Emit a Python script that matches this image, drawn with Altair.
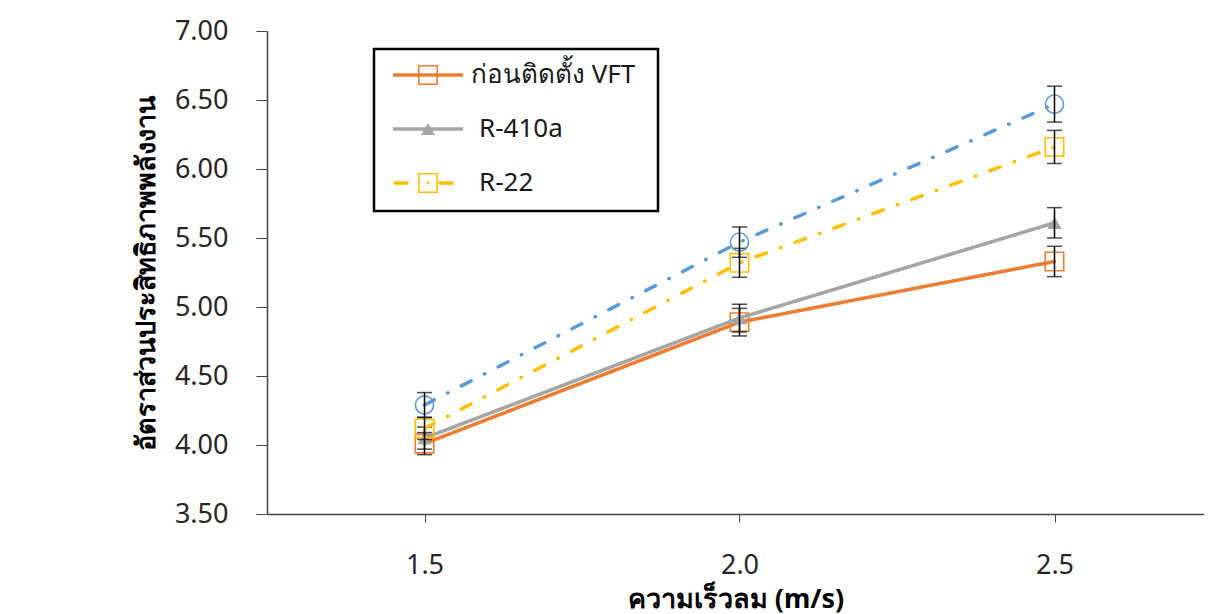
import altair as alt
import pandas as pd

# ---------------- data ----------------
speeds = [1.5, 2.0, 2.5]
series_names = ["ก่อนติดตั้ง VFT", "R-410a", "R-22", "ชุดที่ 4"]
before_vft = [4.01, 4.89, 5.33]
r410a = [4.05, 4.92, 5.61]
r22 = [4.12, 5.32, 6.16]
series4 = [4.29, 5.47, 6.47]
err_before_vft = [0.08, 0.10, 0.11]
err_r410a = [0.08, 0.10, 0.11]
err_r22 = [0.08, 0.105, 0.12]
err_series4 = [0.09, 0.11, 0.13]

y_ticks = [3.5, 4.0, 4.5, 5.0, 5.5, 6.0, 6.5, 7.0]
x_ticks = [1.5, 2.0, 2.5]
x_title = "ความเร็วลม (m/s)"
y_title = "อัตราส่วนประสิทธิภาพพลังงาน"
legend_names = ["ก่อนติดตั้ง VFT", "R-410a", "R-22"]

values = [before_vft, r410a, r22, series4]
errors = [err_before_vft, err_r410a, err_r22, err_series4]

# ---------------- styles ----------------
FONT = "Noto Sans"
styles = {
    "ก่อนติดตั้ง VFT": dict(color="#ED7D31", dash=[1, 0], shape="square", filled=False, size=340),
    "R-410a": dict(color="#A5A5A5", dash=[1, 0], shape="triangle-up", filled=True, size=200),
    "R-22": dict(color="#FFC000", dash=[11, 15, 0.5, 15], shape="square", filled=False, size=340),
    "ชุดที่ 4": dict(color="#5B9BD5", dash=[11, 15, 0.5, 15], shape="circle", filled=False, size=330),
}

rows = []
for name, vals, errs in zip(series_names, values, errors):
    for s, v, e in zip(speeds, vals, errs):
        rows.append(dict(series=name, speed=s, value=v, lo=v - e, hi=v + e))
df = pd.DataFrame(rows)

W, H = 937, 483
x_scale = alt.Scale(domain=[1.25, 1.25 + W / 630.0], nice=False, zero=False)
y_scale = alt.Scale(domain=[3.5, 7.0], nice=False, zero=False)

x_axis = alt.Axis(values=x_ticks, format=".1f", grid=False, tickSize=8, labelPadding=30,
                  labelFontSize=27, labelFont=FONT, labelColor="#262626",
                  domainColor="#444444", tickColor="#444444", domainWidth=1.5, tickWidth=1,
                  title=x_title, titleFont=FONT, titleFontSize=27, titleFontWeight="bold",
                  titleColor="#000000", titlePadding=8)
y_axis = alt.Axis(values=y_ticks, format=".2f", grid=False, tickSize=11, labelPadding=28,
                  labelFontSize=27, labelFont=FONT, labelColor="#262626",
                  domainColor="#444444", tickColor="#444444", domainWidth=1.5, tickWidth=1,
                  title=y_title, titleFont=FONT, titleFontSize=27, titleFontWeight="bold",
                  titleColor="#000000", titlePadding=14)

X = alt.X("speed:Q", scale=x_scale, axis=x_axis)
Y = alt.Y("value:Q", scale=y_scale, axis=y_axis)

layers = []
for name in series_names:
    st = styles[name]
    sub = alt.Chart(df).transform_filter(alt.datum.series == name)
    line = sub.mark_line(color=st["color"], strokeWidth=3.5, strokeDash=st["dash"],
                         strokeCap="round").encode(x=X, y=Y)
    pts = sub.mark_point(shape=st["shape"], size=st["size"], filled=st["filled"],
                         color=st["color"], strokeWidth=1.6, opacity=1).encode(x=X, y=Y)
    err = sub.mark_rule(color="#000000", strokeWidth=1.5).encode(
        x=X, y=alt.Y("lo:Q", scale=y_scale, axis=y_axis), y2="hi:Q")
    cap_lo = sub.mark_tick(color="#000000", thickness=1.5, size=15, orient="horizontal").encode(
        x=X, y=alt.Y("lo:Q", scale=y_scale, axis=y_axis))
    cap_hi = sub.mark_tick(color="#000000", thickness=1.5, size=15, orient="horizontal").encode(
        x=X, y=alt.Y("hi:Q", scale=y_scale, axis=y_axis))
    layers += [line, pts, err, cap_lo, cap_hi]

# ---------------- manual legend (box, line samples, markers, labels) ----------------
one = pd.DataFrame({"k": [0]})
BOX_L, BOX_R, BOX_T, BOX_B = 107, 391, 18, 180
ROW0, ROW_H = 44, 54
LINE_L, LINE_R, MARK_X, TEXT_X = 126, 196, 161, 204

leg = [alt.Chart(one).mark_rect(fill="white", stroke="#000000", strokeWidth=2.5).encode(
    x=alt.value(BOX_L), x2=alt.value(BOX_R), y=alt.value(BOX_T), y2=alt.value(BOX_B))]
for i, name in enumerate(legend_names):
    st = styles[name]
    yy = ROW0 + i * ROW_H
    if name == "R-22":
        leg.append(alt.Chart(one).mark_rule(color=st["color"], strokeWidth=3.5, strokeCap="round").encode(
            x=alt.value(LINE_L + 2), x2=alt.value(LINE_L + 14), y=alt.value(yy)))
        leg.append(alt.Chart(one).mark_rule(color=st["color"], strokeWidth=3.5, strokeCap="round").encode(
            x=alt.value(MARK_X + 12), x2=alt.value(MARK_X + 24), y=alt.value(yy)))
        leg.append(alt.Chart(one).mark_point(shape="circle", size=8, filled=True, color=st["color"],
                                             opacity=1).encode(x=alt.value(MARK_X), y=alt.value(yy)))
    else:
        leg.append(alt.Chart(one).mark_rule(color=st["color"], strokeWidth=3.5).encode(
            x=alt.value(LINE_L), x2=alt.value(LINE_R), y=alt.value(yy)))
    leg.append(alt.Chart(one).mark_point(shape=st["shape"], size=st["size"], filled=st["filled"],
                                         color=st["color"], strokeWidth=1.6, opacity=1).encode(
        x=alt.value(MARK_X), y=alt.value(yy)))
    leg.append(alt.Chart(one).mark_text(align="left", baseline="middle", fontSize=26, font=FONT,
                                        color="#1a1a1a").encode(
        x=alt.value(TEXT_X + (0 if i == 0 else 8)), y=alt.value(yy), text=alt.value(name)))

chart = alt.layer(*layers, *leg).properties(
    width=W, height=H,
    autosize=alt.AutoSizeParams(type="none"),
    padding={"left": 259, "top": 23, "right": 0, "bottom": 104},
    background="white",
).configure_view(stroke=None)

chart.save("out.html", embed_options={"renderer": "svg", "actions": False})
